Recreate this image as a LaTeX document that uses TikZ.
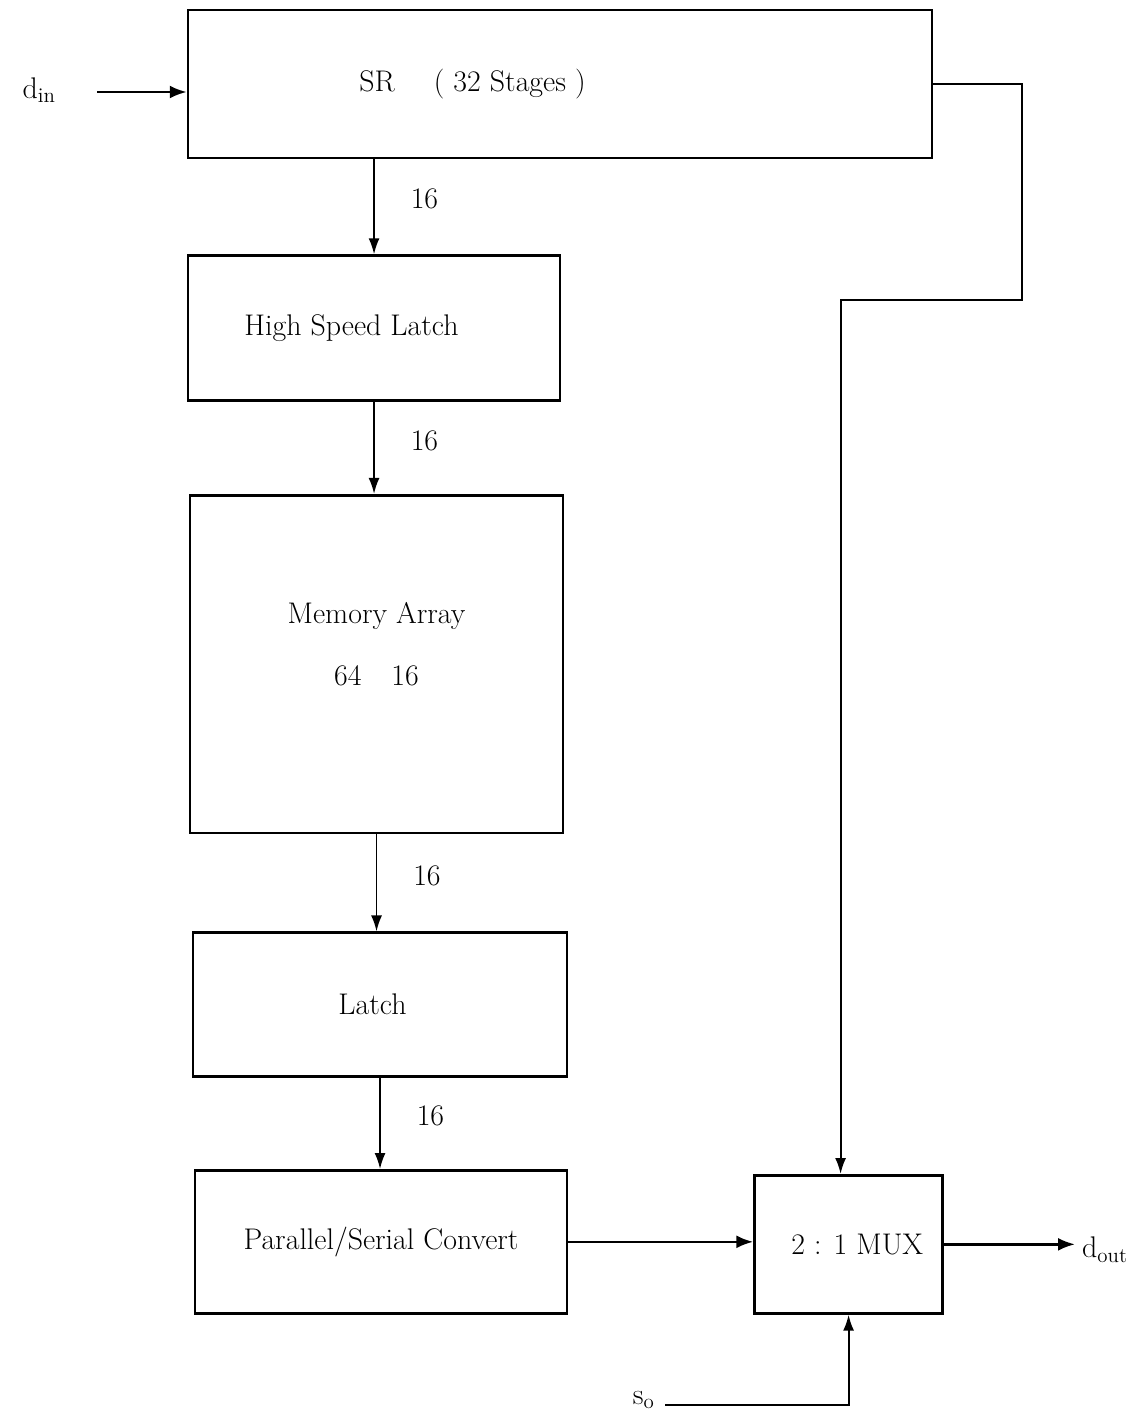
\documentclass[tikz,border=0pt]{standalone}
\usepackage{amsmath}
\usetikzlibrary{positioning, arrows.meta}
\begin{document}
\begin{tikzpicture}[
    x=0.02cm, y=-0.02cm,
    font=\fontsize{17}{20}\selectfont,
    block/.style={
        rectangle, draw=black, line width=1.5pt, inner sep=0pt, align=center
    },
    arr/.style={-{Latex[length=3.4mm, width=2.6mm]}, line width=1.5pt},
    bus/.style={-{Latex[length=3.2mm, width=2.2mm]}, line width=1pt},
    wire/.style={-{Latex[length=3.2mm, width=2.2mm]}, line width=1.2pt},
    buslbl/.style={midway, right=0.6cm, yshift=0.15cm}
]
\useasboundingbox (0,0) rectangle (1148,1419);

% ---------------- Shift register ----------------
\node[block, minimum width=14.88cm, minimum height=2.96cm,
      label={[xshift=-1.75cm]center:SR\quad\ ( 32 Stages )}] (sr) at (560,84) {};

% ---------------- Left column ----------------
\node[block, minimum width=7.44cm, minimum height=2.9cm,
      below=1.9cm of sr.south west, anchor=north west] (hsl) {High Speed Latch\hspace*{0.9cm}};
\node[block, minimum width=7.46cm, minimum height=6.76cm,
      below=1.84cm of hsl.south west, anchor=north west, xshift=0.04cm,
      label={[yshift=0.4cm, align=center]center:Memory Array\\[0.55cm]64\quad 16}] (mem) {};
\node[block, minimum width=7.48cm, minimum height=2.88cm,
      below=1.94cm of mem.south west, anchor=north west, xshift=0.06cm] (latch) {Latch\hspace*{0.3cm}};
\node[block, minimum width=7.44cm, minimum height=2.86cm,
      below=1.82cm of latch.south west, anchor=north west, xshift=0.04cm] (psc) {Parallel/Serial Convert};

% ---------------- Multiplexer ----------------
\node[block, minimum width=3.76cm, minimum height=2.76cm, right=3.7cm of psc, yshift=-0.05cm] (mux) {\hspace*{0.35cm}2 : 1 MUX};

% ---------------- Free ends ----------------
\coordinate (din) at (97,92);
\coordinate (dout) at (1075,1245);
\coordinate (so) at (665,1405);
\coordinate (fb) at (1022,300);

\node[anchor=east] (dinlbl) at (62,90) {d$_{\text{in}}$};
\node[right=0.02cm of dout, yshift=-0.1cm] (doutlbl) {d$_{\text{out}}$};
\node[left=0.08cm of so, yshift=0.1cm] (solbl) {s$_{\text{o}}$};

% ---------------- Arrows ----------------
\draw[arr] (din) -- (din -| sr.west);
\draw[bus] (hsl.north |- sr.south) -- node[buslbl] {16} (hsl.north);
\draw[bus] (hsl.south) -- node[buslbl] {16} (hsl.south |- mem.north);
\draw[bus] (mem.south) -- node[buslbl] {16} (mem.south |- latch.north);
\draw[bus] (latch.south) -- node[buslbl] {16} (latch.south |- psc.north);
\draw[arr] (psc.east) -- (psc.east -| mux.west);
\draw[arr] (mux.east) -- (mux.east -| dout);
\draw[wire] (sr.east) -| (fb) -| ([xshift=-0.16cm]mux.north);
\draw[wire] (so) -| (mux.south);

\end{tikzpicture}
\end{document}
